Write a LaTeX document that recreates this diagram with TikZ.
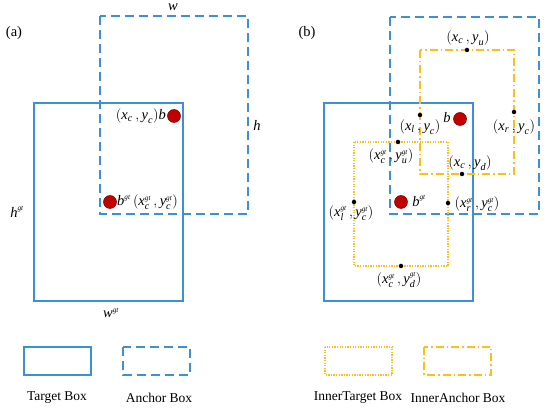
\documentclass[tikz,border=0pt]{standalone}
\usepackage{amstext}
\usepackage{fontspec}
\setmainfont{Liberation Serif}
\newcommand{\iv}[1]{\textit{#1}}
\newcommand{\gt}{{\scriptscriptstyle\iv{gt}}}
\newcommand{\pt}[2]{$(\iv{x}_{\iv{#1}}\,,\iv{y}_{\iv{#2}})$}
\newcommand{\pg}[2]{$(\iv{x}^{\gt}_{\iv{#1}}\,,\iv{y}^{\gt}_{\iv{#2}})$}
\definecolor{boxblue}{RGB}{58,145,215}
\definecolor{inyel}{RGB}{255,190,20}
\definecolor{bred}{RGB}{195,0,0}
\begin{document}
\begin{tikzpicture}[x=1pt,y=-1pt,
  tbox/.style={draw=boxblue, line width=1.4pt},
  abox/.style={draw=boxblue, line width=1.4pt, dash pattern=on 9pt off 5pt},
  itbox/.style={draw=inyel, line width=1.3pt, dash pattern=on 1.3pt off 1.3pt},
  iabox/.style={draw=inyel, line width=1.3pt, dash pattern=on 8pt off 3pt on 1.5pt off 3pt},
  cdot/.style={circle, fill=black, inner sep=0pt, minimum size=4.5pt},
  reddot/.style={circle, fill=bred, draw=bred!60!black, line width=0.5pt, inner sep=0pt, minimum size=13pt},
  lbl/.style={font=\fontsize{14.5}{16}\selectfont, inner sep=0pt},
  leg/.style={font=\fontsize{13.5}{15}\selectfont, inner sep=0pt}]
\useasboundingbox (0,0) rectangle (550,411);
\fill[white] (0,0) rectangle (550,411);

% ---------- panel (a)
\node[lbl] (pa) at (14,33) {(a)};
\draw[abox] (100,16) rectangle (248,214);
\draw[tbox] (34,103) rectangle (183,301);
\node[lbl] (wa) at (173,7) {\iv{w}};
\node[lbl] (ha) at (257,125) {\iv{h}};
\node[lbl] (hga) at (17,212) {$\iv{h}^{\gt}$};
\node[lbl] (wga) at (111,313) {$\iv{w}^{\gt}$};
\node[reddot] (ba) at (174,116) {};
\node[lbl, anchor=east] (bla) at (166,116) {\pt{c}{c}\iv{b}};
\node[reddot] (bga) at (110,202) {};
\node[lbl, anchor=west] (bgla) at (117,202) {$\iv{b}^{\gt}$\,\pg{c}{c}};

% ---------- panel (b)
\node[lbl] (pb) at (307,33) {(b)};
\draw[abox] (390,17) rectangle (539,214);
\draw[tbox] (324,103) rectangle (473,301);
\draw[iabox] (420,50) rectangle (514,174);
\draw[itbox] (354,142) rectangle (448,266);

\node[cdot] (cu) at (467,50) {};
\node[cdot] (lc) at (420,115) {};
\node[cdot] (rc) at (514,112) {};
\node[cdot] (cd) at (462,174) {};
\node[cdot] (gcu) at (398,142) {};
\node[cdot] (glc) at (354,202) {};
\node[cdot] (grc) at (448,203) {};
\node[cdot] (gcd) at (401,266) {};

\node[reddot] (bb) at (460,119) {};
\node[reddot] (bgb) at (401,202) {};

\node[lbl] (lcu) at (468,38) {\pt{c}{u}};
\node[lbl] (llc) at (420,127) {\pt{l}{c}};
\node[lbl] (lbb) at (447,118) {\iv{b}};
\node[lbl] (lrc) at (514,127) {\pt{r}{c}};
\node[lbl] (lgcu) at (391,156) {\pg{c}{u}};
\node[lbl] (lcd) at (470,163) {\pt{c}{d}};
\node[lbl] (lbgb) at (419,201) {$\iv{b}^{\gt}$};
\node[lbl] (lgrc) at (477,204) {\pg{r}{c}};
\node[lbl] (lglc) at (351,213) {\pg{l}{c}};
\node[lbl] (lgcd) at (399,280) {\pg{c}{d}};

% ---------- legend
\draw[tbox] (24,347) rectangle (91,375);
\draw[abox] (123,347) rectangle (190,375);
\draw[itbox] (325,347) rectangle (392,375);
\draw[iabox] (424,347) rectangle (491,375);
\node[leg] (lt) at (57,398) {Target Box};
\node[leg] (la) at (159,398) {Anchor Box};
\node[leg] (lit) at (358,398) {InnerTarget Box};
\node[leg] (lia) at (458,398) {InnerAnchor Box};
\end{tikzpicture}
\end{document}
